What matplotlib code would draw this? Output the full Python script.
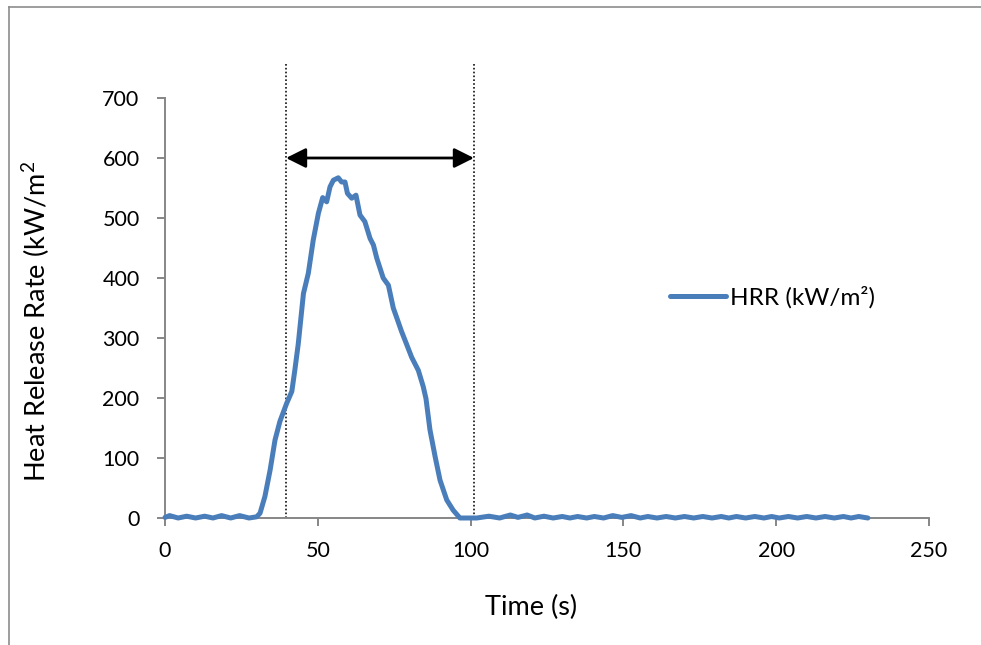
"""
HRR curve with the burning window marked by dotted lines and a double arrow.
"""

import matplotlib

matplotlib.use("Agg")  # no display
import matplotlib.pyplot as plt
from matplotlib.lines import Line2D

plt.rcParams["font.family"] = ["Lato", "DejaVu Sans"]
plt.rcParams["mathtext.fontset"] = "custom"
plt.rcParams["mathtext.rm"] = "Lato"
plt.rcParams["mathtext.it"] = "Lato"

# Time (s) and heat release rate (kW/m2)
time_s = [
    0, 1.5, 4.3, 7.1, 10, 13, 15.7, 18.5, 21.5, 24.4, 27.5, 30,
    31.1, 32.7, 34.4, 36.0, 37.6, 39.8, 41.5, 42.5, 43.6, 45.3, 46.9, 48.5,
    50.2, 51.6, 52.9, 54.0, 55.1, 56.7, 57.8, 58.9, 59.7, 61.1, 62.5, 63.8,
    65.4, 67.1, 68.2, 69.3, 71.4, 73.1, 74.7, 76.3, 77.4, 79.1, 80.7, 82.9,
    84.5, 85.4, 86.7, 88.4, 90.0, 92.2, 94.3, 96.5, 99.8,
    102, 106, 109.5, 113, 115.5, 118.5, 121, 124, 127, 130, 132.5, 135,
    138, 140.5, 143.5, 146.5, 149.5, 152.5, 155.5, 158, 161, 164, 167, 170,
    173, 176, 179, 182, 184.5, 187, 190, 193, 196, 198.5, 201, 204,
    207, 210, 213, 216, 219, 222, 224.5, 227, 230,
]
hrr = [
    1, 4, 0, 3, 0, 3, 0, 4, 0, 4, 0, 2,
    8, 36, 80, 130, 161, 191, 211, 247, 290, 374, 408, 463,
    508, 534, 527, 552, 563, 567, 560, 560, 541, 533, 538, 505,
    494, 466, 455, 433, 400, 388, 350, 327, 311, 289, 268, 246,
    219, 199, 147, 102, 63, 30, 13, 0, 0,
    0, 3, 0, 5, 1, 5, 0, 3, 0, 2.5, 0, 2.5,
    0, 2.5, 0, 4, 1, 4, 0, 2.5, 0, 2.5, 0, 2.5,
    0, 2.5, 0, 2.5, 0, 2.5, 0, 2.5, 0, 2.5, 0, 2.5,
    0, 2.5, 0, 2.5, 0, 2.5, 0, 2.5, 0,
]

window_start = 39.6
window_end = 101.1
marker_top = 760
arrow_level = 600

x_ticks = [0, 50, 100, 150, 200, 250]
y_ticks = [0, 100, 200, 300, 400, 500, 600, 700]

LINE_BLUE = "#4A7EBB"
AXIS_GRAY = "#868686"

fig = plt.figure(figsize=(9.81, 6.45), dpi=100)
ax = fig.add_axes([165 / 981, 1 - 518 / 645, 764 / 981, 420 / 645])

ax.plot(time_s, hrr, color=LINE_BLUE, linewidth=3.6, solid_joinstyle="round",
        solid_capstyle="round", label="HRR (kW/m²)", clip_on=False, zorder=3)

# burning window
for t in (window_start, window_end):
    ax.plot([t, t], [0, marker_top], color="#111111", linestyle=(0, (1, 1.3)),
            linewidth=1.2, clip_on=False, zorder=2)
ax.annotate("", xy=(window_end, arrow_level), xytext=(window_start, arrow_level),
            arrowprops=dict(arrowstyle="<|-|>,head_length=0.6,head_width=0.3",
                            mutation_scale=20, color="black", linewidth=2,
                            shrinkA=0, shrinkB=0))

ax.set_xlim(0, 250)
ax.set_ylim(0, 700)
ax.set_xticks(x_ticks)
ax.set_yticks(y_ticks)
for side in ("top", "right"):
    ax.spines[side].set_visible(False)
for side in ("left", "bottom"):
    ax.spines[side].set_color(AXIS_GRAY)
    ax.spines[side].set_linewidth(1.4)
ax.tick_params(direction="out", length=5.8, width=1.4, color=AXIS_GRAY,
               labelsize=15.5, labelcolor="black")
ax.tick_params(axis="y", pad=12.5)
ax.tick_params(axis="x", pad=11)

ax.set_xlabel("Time (s)", fontsize=19.5, va="center")
ax.xaxis.set_label_coords(0.479, -0.212)
ax.set_ylabel("Heat Release Rate (kW/m$^2$", fontsize=19.5, va="center")
ax.yaxis.set_label_coords(-0.169, 0.469)

ax.legend(loc="center left", bbox_to_anchor=(670 / 981, 1 - 297 / 645),
          bbox_transform=fig.transFigure, frameon=False, fontsize=17.5,
          handlelength=2.3, handletextpad=0.15, borderaxespad=0, borderpad=0)

# outer chart border (cropped on the right and bottom)
fig.add_artist(Line2D([8.5 / 981, 8.5 / 981], [0, 1 - 6.5 / 645],
                      transform=fig.transFigure, color="#8c8c8c", linewidth=1.2))
fig.add_artist(Line2D([8.5 / 981, 1], [1 - 6.5 / 645, 1 - 6.5 / 645],
                      transform=fig.transFigure, color="#8c8c8c", linewidth=1.2))

fig.savefig("out.png", dpi=100)
plt.close(fig)
